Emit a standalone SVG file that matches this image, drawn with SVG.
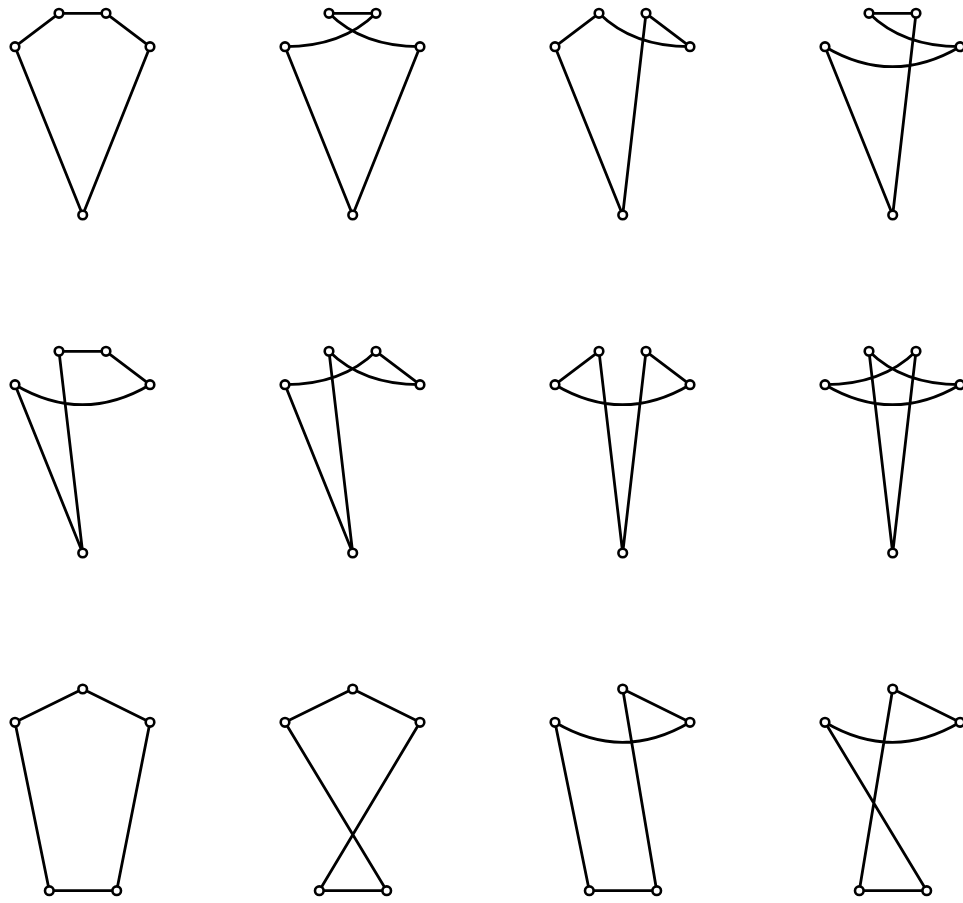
<svg xmlns="http://www.w3.org/2000/svg" width="963" height="903" viewBox="0 0 963 903">
<style>
.e{fill:none;stroke:#000;stroke-width:2.8;stroke-linecap:round}
.n{fill:#fff;stroke:#000;stroke-width:2.6}
</style>
<defs>
<circle id="nd" r="4.3" class="n"/>
</defs>
<rect width="963" height="903" fill="#fff"/>
<!-- Row 1 -->
<g id="panel-r1c1" transform="translate(0,0)">
<g id="edges-r1c1" class="edges">
<path class="e" d="M59,13.3 L106,13.3 M59,13.3 L15,46.7 M106,13.3 L150,46.7 M15,46.7 L82.7,215 M150,46.7 L82.7,215"/>
</g>
<g id="r1c1-A"><use href="#nd" x="59" y="13.3"/></g>
<g id="r1c1-B"><use href="#nd" x="106" y="13.3"/></g>
<g id="r1c1-L"><use href="#nd" x="15" y="46.7"/></g>
<g id="r1c1-R"><use href="#nd" x="150" y="46.7"/></g>
<g id="r1c1-D"><use href="#nd" x="82.7" y="215"/></g>
</g>
<g id="panel-r1c2" transform="translate(270,0)">
<g id="edges-r1c2" class="edges">
<path class="e" d="M59,13.3 L106,13.3 M59,13.3 Q92.7,46.7 150,46.7 M106,13.3 Q72.3,46.7 15,46.7 M15,46.7 L82.7,215 M150,46.7 L82.7,215"/>
</g>
<g id="r1c2-A"><use href="#nd" x="59" y="13.3"/></g>
<g id="r1c2-B"><use href="#nd" x="106" y="13.3"/></g>
<g id="r1c2-L"><use href="#nd" x="15" y="46.7"/></g>
<g id="r1c2-R"><use href="#nd" x="150" y="46.7"/></g>
<g id="r1c2-D"><use href="#nd" x="82.7" y="215"/></g>
</g>
<g id="panel-r1c3" transform="translate(540,0)">
<g id="edges-r1c3" class="edges">
<path class="e" d="M59,13.3 L15,46.7 M59,13.3 Q92.7,46.7 150,46.7 M106,13.3 L150,46.7 M106,13.3 L82.7,215 M15,46.7 L82.7,215"/>
</g>
<g id="r1c3-A"><use href="#nd" x="59" y="13.3"/></g>
<g id="r1c3-B"><use href="#nd" x="106" y="13.3"/></g>
<g id="r1c3-L"><use href="#nd" x="15" y="46.7"/></g>
<g id="r1c3-R"><use href="#nd" x="150" y="46.7"/></g>
<g id="r1c3-D"><use href="#nd" x="82.7" y="215"/></g>
</g>
<g id="panel-r1c4" transform="translate(810,0)">
<g id="edges-r1c4" class="edges">
<path class="e" d="M59,13.3 L106,13.3 M59,13.3 Q92.7,46.7 150,46.7 M15,46.7 Q82.5,86.7 150,46.7 M106,13.3 L82.7,215 M15,46.7 L82.7,215"/>
</g>
<g id="r1c4-A"><use href="#nd" x="59" y="13.3"/></g>
<g id="r1c4-B"><use href="#nd" x="106" y="13.3"/></g>
<g id="r1c4-L"><use href="#nd" x="15" y="46.7"/></g>
<g id="r1c4-R"><use href="#nd" x="150" y="46.7"/></g>
<g id="r1c4-D"><use href="#nd" x="82.7" y="215"/></g>
</g>
<!-- Row 2 -->
<g id="panel-r2c1" transform="translate(0,338)">
<g id="edges-r2c1" class="edges">
<path class="e" d="M59,13.3 L106,13.3 M106,13.3 L150,46.7 M15,46.7 Q82.5,86.7 150,46.7 M59,13.3 L82.7,215 M15,46.7 L82.7,215"/>
</g>
<g id="r2c1-A"><use href="#nd" x="59" y="13.3"/></g>
<g id="r2c1-B"><use href="#nd" x="106" y="13.3"/></g>
<g id="r2c1-L"><use href="#nd" x="15" y="46.7"/></g>
<g id="r2c1-R"><use href="#nd" x="150" y="46.7"/></g>
<g id="r2c1-D"><use href="#nd" x="82.7" y="215"/></g>
</g>
<g id="panel-r2c2" transform="translate(270,338)">
<g id="edges-r2c2" class="edges">
<path class="e" d="M59,13.3 Q92.7,46.7 150,46.7 M106,13.3 Q72.3,46.7 15,46.7 M106,13.3 L150,46.7 M59,13.3 L82.7,215 M15,46.7 L82.7,215"/>
</g>
<g id="r2c2-A"><use href="#nd" x="59" y="13.3"/></g>
<g id="r2c2-B"><use href="#nd" x="106" y="13.3"/></g>
<g id="r2c2-L"><use href="#nd" x="15" y="46.7"/></g>
<g id="r2c2-R"><use href="#nd" x="150" y="46.7"/></g>
<g id="r2c2-D"><use href="#nd" x="82.7" y="215"/></g>
</g>
<g id="panel-r2c3" transform="translate(540,338)">
<g id="edges-r2c3" class="edges">
<path class="e" d="M59,13.3 L15,46.7 M106,13.3 L150,46.7 M15,46.7 Q82.5,86.7 150,46.7 M59,13.3 L82.7,215 M106,13.3 L82.7,215"/>
</g>
<g id="r2c3-A"><use href="#nd" x="59" y="13.3"/></g>
<g id="r2c3-B"><use href="#nd" x="106" y="13.3"/></g>
<g id="r2c3-L"><use href="#nd" x="15" y="46.7"/></g>
<g id="r2c3-R"><use href="#nd" x="150" y="46.7"/></g>
<g id="r2c3-D"><use href="#nd" x="82.7" y="215"/></g>
</g>
<g id="panel-r2c4" transform="translate(810,338)">
<g id="edges-r2c4" class="edges">
<path class="e" d="M59,13.3 Q92.7,46.7 150,46.7 M106,13.3 Q72.3,46.7 15,46.7 M15,46.7 Q82.5,86.7 150,46.7 M59,13.3 L82.7,215 M106,13.3 L82.7,215"/>
</g>
<g id="r2c4-A"><use href="#nd" x="59" y="13.3"/></g>
<g id="r2c4-B"><use href="#nd" x="106" y="13.3"/></g>
<g id="r2c4-L"><use href="#nd" x="15" y="46.7"/></g>
<g id="r2c4-R"><use href="#nd" x="150" y="46.7"/></g>
<g id="r2c4-D"><use href="#nd" x="82.7" y="215"/></g>
</g>
<!-- Row 3 -->
<g id="panel-r3c1" transform="translate(0,676)">
<g id="edges-r3c1" class="edges">
<path class="e" d="M82.7,13 L15,46.3 M82.7,13 L150,46.3 M15,46.3 L49.3,214.7 M150,46.3 L116.7,214.7 M49.3,214.7 L116.7,214.7"/>
</g>
<g id="r3c1-T"><use href="#nd" x="82.7" y="13"/></g>
<g id="r3c1-L"><use href="#nd" x="15" y="46.3"/></g>
<g id="r3c1-R"><use href="#nd" x="150" y="46.3"/></g>
<g id="r3c1-P"><use href="#nd" x="49.3" y="214.7"/></g>
<g id="r3c1-Q"><use href="#nd" x="116.7" y="214.7"/></g>
</g>
<g id="panel-r3c2" transform="translate(270,676)">
<g id="edges-r3c2" class="edges">
<path class="e" d="M82.7,13 L15,46.3 M82.7,13 L150,46.3 M15,46.3 L116.7,214.7 M150,46.3 L49.3,214.7 M49.3,214.7 L116.7,214.7"/>
</g>
<g id="r3c2-T"><use href="#nd" x="82.7" y="13"/></g>
<g id="r3c2-L"><use href="#nd" x="15" y="46.3"/></g>
<g id="r3c2-R"><use href="#nd" x="150" y="46.3"/></g>
<g id="r3c2-P"><use href="#nd" x="49.3" y="214.7"/></g>
<g id="r3c2-Q"><use href="#nd" x="116.7" y="214.7"/></g>
</g>
<g id="panel-r3c3" transform="translate(540,676)">
<g id="edges-r3c3" class="edges">
<path class="e" d="M82.7,13 L150,46.3 M82.7,13 L116.7,214.7 M15,46.3 Q82.5,86.3 150,46.3 M15,46.3 L49.3,214.7 M49.3,214.7 L116.7,214.7"/>
</g>
<g id="r3c3-T"><use href="#nd" x="82.7" y="13"/></g>
<g id="r3c3-L"><use href="#nd" x="15" y="46.3"/></g>
<g id="r3c3-R"><use href="#nd" x="150" y="46.3"/></g>
<g id="r3c3-P"><use href="#nd" x="49.3" y="214.7"/></g>
<g id="r3c3-Q"><use href="#nd" x="116.7" y="214.7"/></g>
</g>
<g id="panel-r3c4" transform="translate(810,676)">
<g id="edges-r3c4" class="edges">
<path class="e" d="M82.7,13 L150,46.3 M82.7,13 L49.3,214.7 M15,46.3 Q82.5,86.3 150,46.3 M15,46.3 L116.7,214.7 M49.3,214.7 L116.7,214.7"/>
</g>
<g id="r3c4-T"><use href="#nd" x="82.7" y="13"/></g>
<g id="r3c4-L"><use href="#nd" x="15" y="46.3"/></g>
<g id="r3c4-R"><use href="#nd" x="150" y="46.3"/></g>
<g id="r3c4-P"><use href="#nd" x="49.3" y="214.7"/></g>
<g id="r3c4-Q"><use href="#nd" x="116.7" y="214.7"/></g>
</g>
</svg>
